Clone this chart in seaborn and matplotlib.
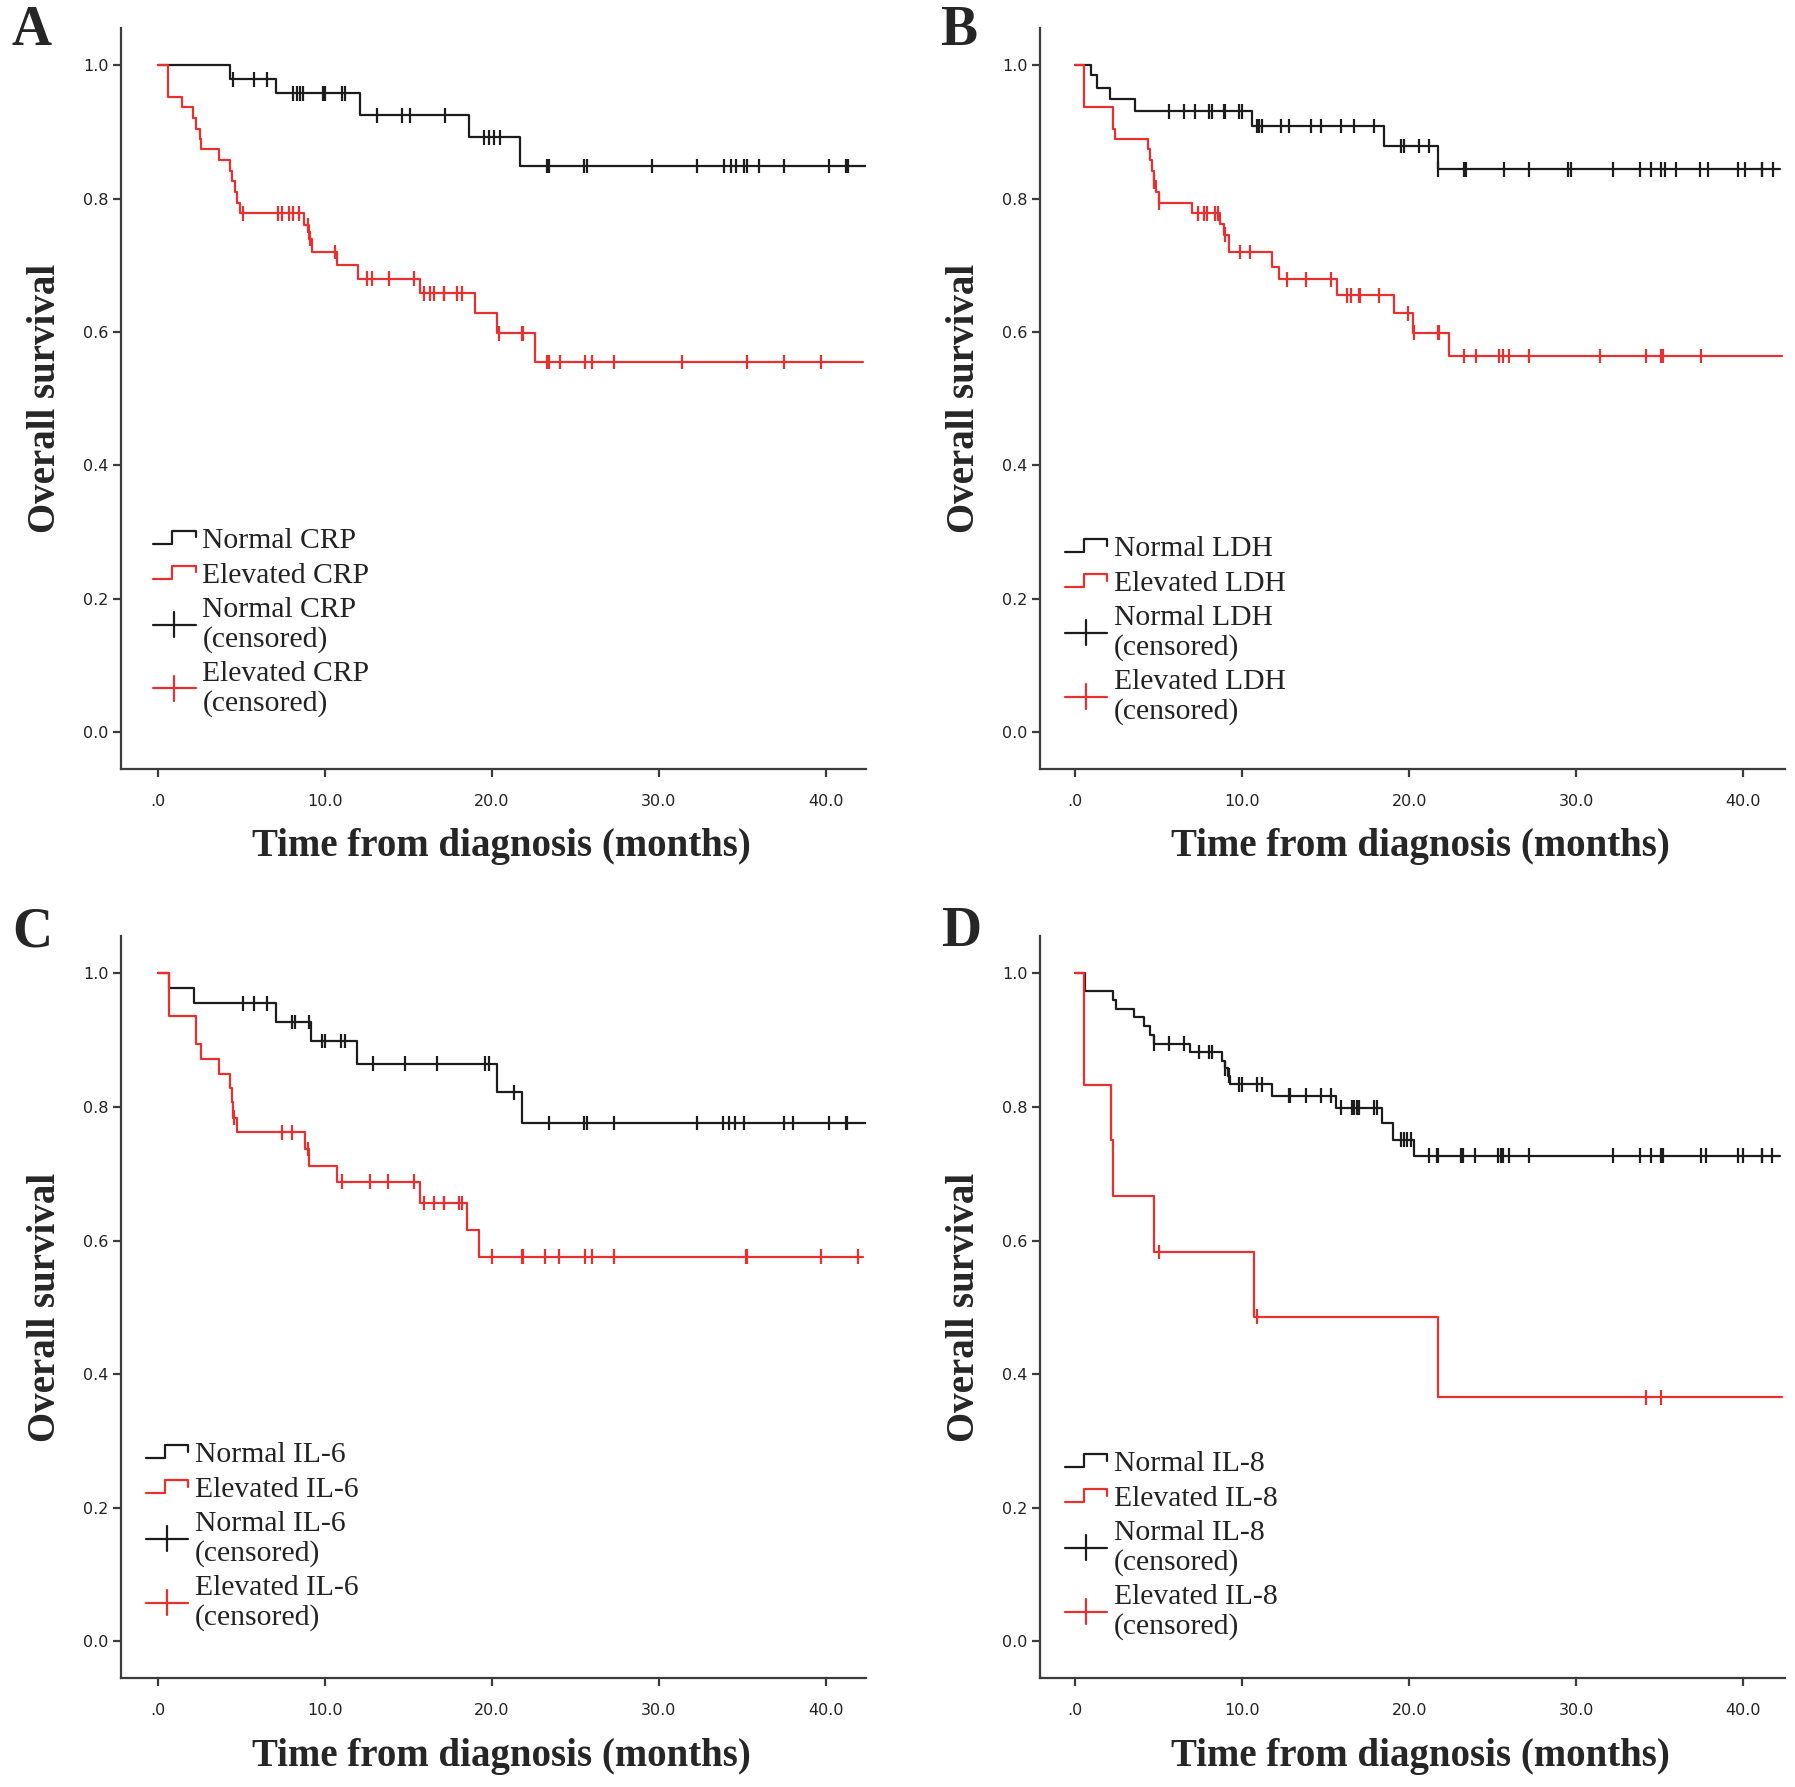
import numpy as np
import pandas as pd
import matplotlib
matplotlib.use("Agg")
import matplotlib.pyplot as plt
from matplotlib.lines import Line2D
from matplotlib.legend_handler import HandlerBase
import seaborn as sns

# ---- data (months, survival) ----
# A: CRP
a_norm_t = [4.3, 7.07, 12.1, 18.6, 21.7]
a_norm_s = [0.979, 0.958, 0.925, 0.892, 0.849]
a_norm_c = [4.5, 5.75, 6.5, 8.1, 8.3, 8.5, 8.7, 9.9, 10.0, 11.0, 11.2, 13.1, 14.6, 15.1,
            17.2, 19.5, 19.8, 20.1, 20.5, 23.3, 23.4, 25.5, 25.7, 29.6, 32.3, 33.9, 34.3,
            34.6, 35.1, 35.3, 36.0, 37.5, 40.2, 41.2, 41.3]
a_norm_end = 42.4
a_elev_t = [0.6, 1.46, 2.1, 2.3, 2.5, 2.6, 3.65, 4.3, 4.45, 4.6, 4.75, 4.9, 8.74, 9.05,
            9.2, 10.7, 12.0, 15.7, 19.0, 20.3, 22.6]
a_elev_s = [0.952, 0.937, 0.921, 0.905, 0.889, 0.874, 0.858, 0.842, 0.826, 0.81, 0.794,
            0.778, 0.76, 0.74, 0.72, 0.70, 0.68, 0.658, 0.628, 0.598, 0.555]
a_elev_c = [5.07, 7.2, 7.4, 7.86, 8.07, 8.44, 9.0, 9.1, 10.6, 12.5, 12.8, 13.85, 15.3, 15.9,
            16.3, 16.5, 17.1, 17.15, 17.9, 18.2, 20.4, 21.8, 21.85, 23.3, 23.4, 24.1, 25.6,
            26.0, 27.3, 31.4, 35.3, 37.5, 39.7]
a_elev_end = 42.2

# B: LDH
b_norm_t = [0.94, 1.34, 2.1, 3.6, 10.6, 18.5, 21.7]
b_norm_s = [0.985, 0.966, 0.949, 0.931, 0.909, 0.879, 0.844]
b_norm_c = [5.65, 6.5, 7.2, 8.0, 8.2, 8.9, 8.95, 9.8, 10.0, 10.9, 11.0, 11.2, 12.3, 12.8,
            14.1, 14.7, 15.9, 16.7, 17.9, 19.5, 19.7, 20.6, 21.2, 21.75, 23.3, 23.35, 23.4,
            25.7, 27.2, 29.5, 29.7, 32.2, 33.8, 34.5, 35.1, 35.3, 36.0, 37.4, 37.9, 39.7,
            40.1, 41.1, 41.15, 41.8]
b_norm_end = 42.2
b_elev_t = [0.54, 2.26, 2.4, 4.34, 4.46, 4.6, 4.7, 4.86, 5.02, 7.0, 8.65, 8.9, 9.2, 11.8,
            12.2, 15.7, 19.1, 20.2, 22.4]
b_elev_s = [0.937, 0.905, 0.89, 0.874, 0.858, 0.842, 0.826, 0.81, 0.794, 0.778, 0.762,
            0.746, 0.72, 0.698, 0.679, 0.655, 0.628, 0.599, 0.564]
b_elev_c = [4.75, 5.05, 7.35, 7.7, 7.9, 8.35, 8.55, 9.0, 9.9, 10.5, 12.7, 13.8, 15.3, 16.3,
            16.5, 17.0, 17.05, 18.2, 19.96, 20.3, 21.75, 21.8, 23.3, 24.0, 25.4, 25.6, 26.0,
            27.2, 31.4, 34.2, 35.1, 35.2, 37.5]
b_elev_end = 42.3

# C: IL-6
c_norm_t = [0.68, 2.16, 7.07, 9.16, 11.9, 20.3, 21.8]
c_norm_s = [0.978, 0.955, 0.927, 0.899, 0.865, 0.822, 0.776]
c_norm_c = [5.1, 5.75, 6.55, 8.0, 8.2, 9.06, 9.8, 10.0, 10.96, 11.2, 12.86, 14.8, 16.7,
            19.6, 19.8, 21.3, 23.4, 25.5, 25.7, 27.3, 32.3, 33.85, 34.2, 34.55, 35.1, 37.5,
            38.0, 40.2, 41.2, 41.25]
c_norm_end = 42.4
c_elev_t = [0.66, 2.3, 2.55, 3.65, 4.3, 4.4, 4.5, 4.7, 8.8, 9.05, 10.7, 15.7, 18.5, 19.2]
c_elev_s = [0.936, 0.894, 0.872, 0.849, 0.829, 0.807, 0.784, 0.762, 0.737, 0.712, 0.688,
            0.656, 0.616, 0.576]
c_elev_c = [4.55, 7.4, 8.0, 9.0, 11.0, 12.7, 13.8, 15.3, 15.9, 16.5, 17.1, 17.15, 18.0, 18.2,
            20.0, 21.8, 21.85, 23.2, 24.0, 25.6, 26.0, 27.3, 35.2, 35.25, 39.7, 41.9]
c_elev_end = 42.2

# D: IL-8
d_norm_t = [0.6, 2.26, 2.45, 3.55, 4.1, 4.5, 4.7, 6.9, 8.8, 8.95, 9.15, 9.3, 11.8, 15.6,
            18.4, 19.06, 20.3]
d_norm_s = [0.973, 0.96, 0.947, 0.934, 0.921, 0.908, 0.895, 0.882, 0.869, 0.858, 0.847,
            0.834, 0.817, 0.799, 0.776, 0.751, 0.727]
d_norm_c = [4.75, 5.65, 6.5, 7.4, 8.0, 8.2, 9.0, 9.2, 9.8, 10.0, 10.9, 11.2, 12.8, 12.85,
            13.8, 14.7, 15.3, 15.9, 16.6, 16.7, 16.9, 17.0, 17.9, 18.1, 19.5, 19.7, 19.9,
            20.1, 21.2, 21.66, 21.75, 23.1, 23.2, 23.95, 25.3, 25.5, 25.6, 26.0, 27.2, 32.2,
            33.8, 34.5, 35.1, 35.2, 37.5, 37.8, 39.7, 40.0, 41.1, 41.15, 41.7]
d_norm_end = 42.2
d_elev_t = [0.54, 2.14, 2.3, 4.7, 10.7, 21.7]
d_elev_s = [0.833, 0.75, 0.667, 0.583, 0.486, 0.365]
d_elev_c = [5.05, 10.9, 34.2, 35.1]
d_elev_end = 42.3

x_ticks = [0, 10, 20, 30, 40]
x_tick_labels = [".0", "10.0", "20.0", "30.0", "40.0"]
y_ticks = [0.0, 0.2, 0.4, 0.6, 0.8, 1.0]
y_tick_labels = ["0.0", "0.2", "0.4", "0.6", "0.8", "1.0"]

panels = [
    ("A", "CRP", (a_norm_t, a_norm_s, a_norm_c, a_norm_end), (a_elev_t, a_elev_s, a_elev_c, a_elev_end)),
    ("B", "LDH", (b_norm_t, b_norm_s, b_norm_c, b_norm_end), (b_elev_t, b_elev_s, b_elev_c, b_elev_end)),
    ("C", "IL-6", (c_norm_t, c_norm_s, c_norm_c, c_norm_end), (c_elev_t, c_elev_s, c_elev_c, c_elev_end)),
    ("D", "IL-8", (d_norm_t, d_norm_s, d_norm_c, d_norm_end), (d_elev_t, d_elev_s, d_elev_c, d_elev_end)),
]

BLACK = "#1c1c1c"
RED = "#e8312f"
AXIS = "#3c3c3c"

sns.set_style("ticks")
plt.rcParams["font.family"] = ["Liberation Serif", "DejaVu Serif"]


def km_frame(ev_t, ev_s, end, grp):
    t = [0.0] + list(ev_t) + [end]
    s = [1.0] + list(ev_s) + [ev_s[-1]]
    return pd.DataFrame({"t": t, "s": s, "grp": grp})


def cens_frame(ev_t, ev_s, cens, grp):
    levels = np.array([1.0] + list(ev_s))
    idx = np.searchsorted(np.array(ev_t), np.array(cens), side="right")
    return pd.DataFrame({"t": cens, "s": levels[idx], "grp": grp})


class StepHandler(HandlerBase):
    def create_artists(self, legend, orig_handle, xdescent, ydescent, width, height, fontsize, trans):
        x0, y0 = -xdescent, -ydescent
        xs = [x0, x0 + 0.45 * width, x0 + 0.45 * width, x0 + width, x0 + width]
        ys = [y0 + 0.2 * height, y0 + 0.2 * height, y0 + 0.8 * height, y0 + 0.8 * height, y0 + 0.5 * height]
        return [Line2D(xs, ys, color=orig_handle.get_color(), lw=1.6, transform=trans)]


class PlusHandler(HandlerBase):
    def create_artists(self, legend, orig_handle, xdescent, ydescent, width, height, fontsize, trans):
        x0, y0 = -xdescent, -ydescent
        cy = y0 + 0.5 * height
        h = Line2D([x0, x0 + width], [cy, cy], color=orig_handle.get_color(), lw=1.6, transform=trans)
        v = Line2D([x0 + 0.5 * width] * 2, [cy - 0.6 * height, cy + 0.6 * height],
                   color=orig_handle.get_color(), lw=1.6, transform=trans)
        return [h, v]


fig = plt.figure(figsize=(17.95, 17.87), dpi=100)

W, H = 1795.0, 1787.0
ax_left = [121, 1040, 121, 1040]
ax_top = [28, 28, 936, 936]
ax_bot = [768.5, 768.5, 1678, 1678]
xlims = [(-2.22, 42.4), (-2.1, 42.5), (-2.22, 42.4), (-2.1, 42.5)]
leg_anchor = [(0.043, 0.326), (0.033, 0.315), (0.033, 0.319), (0.033, 0.307)]
letter_pos = [(32, 31), (959, 31), (32, 932), (961, 932)]

for i, (letter, marker_name, norm, elev) in enumerate(panels):
    ax = fig.add_axes([ax_left[i] / W, 1 - ax_bot[i] / H, 745 / W, (ax_bot[i] - ax_top[i]) / H])
    n_lab = "Normal " + marker_name
    e_lab = "Elevated " + marker_name

    curves = pd.concat([km_frame(norm[0], norm[1], norm[3], n_lab),
                        km_frame(elev[0], elev[1], elev[3], e_lab)], ignore_index=True)
    cens = pd.concat([cens_frame(norm[0], norm[1], norm[2], n_lab),
                      cens_frame(elev[0], elev[1], elev[2], e_lab)], ignore_index=True)
    pal = {n_lab: BLACK, e_lab: RED}

    sns.lineplot(data=curves, x="t", y="s", hue="grp", hue_order=[n_lab, e_lab], palette=pal,
                 estimator=None, sort=False, drawstyle="steps-post", lw=1.6, legend=False, ax=ax)
    sns.scatterplot(data=cens, x="t", y="s", hue="grp", hue_order=[n_lab, e_lab], palette=pal,
                    marker="|", s=110, linewidth=1.6, legend=False, ax=ax)

    ax.set_xlim(*xlims[i])
    ax.set_ylim(-0.055, 1.056)
    ax.set_xticks(x_ticks)
    ax.set_xticklabels(x_tick_labels, fontfamily="DejaVu Sans", fontsize=11.5, color="#222222")
    ax.set_yticks(y_ticks)
    ax.set_yticklabels(y_tick_labels, fontfamily="DejaVu Sans", fontsize=11.5, color="#222222")
    ax.tick_params(axis="x", length=6, width=1.6, color=AXIS, pad=12)
    ax.tick_params(axis="y", length=6, width=1.6, color=AXIS, pad=3)
    sns.despine(ax=ax)
    for sp in ["left", "bottom"]:
        ax.spines[sp].set_linewidth(1.6)
        ax.spines[sp].set_color(AXIS)

    ax.set_xlabel("Time from diagnosis (months)", fontsize=28, fontweight="bold")
    ax.set_ylabel("Overall survival", fontsize=28, fontweight="bold")
    ax.xaxis.set_label_coords(0.51, -0.081)
    ax.yaxis.set_label_coords(-0.077, 0.5)

    handles = [Line2D([], [], color=BLACK), Line2D([], [], color=RED),
               Line2D([], [], color=BLACK, marker="+"), Line2D([], [], color=RED, marker="+")]
    labels = [n_lab, e_lab, n_lab + "\n(censored)", e_lab + "\n(censored)"]
    hmap = {handles[0]: StepHandler(), handles[1]: StepHandler(),
            handles[2]: PlusHandler(), handles[3]: PlusHandler()}
    leg = ax.legend(handles, labels, handler_map=hmap, loc="upper left",
                    bbox_to_anchor=leg_anchor[i], frameon=False, fontsize=21.3,
                    handlelength=1.45, handleheight=0.7, handletextpad=0.22,
                    labelspacing=0.28, borderpad=0, borderaxespad=0)
    for txt in leg.get_texts():
        txt.set_linespacing(1.13)
        txt.set_color("#222222")

    fig.text(letter_pos[i][0] / W, 1 - letter_pos[i][1] / H, letter, fontsize=40,
             fontweight="bold", ha="center", va="center")

fig.savefig("out.png", dpi=100)
